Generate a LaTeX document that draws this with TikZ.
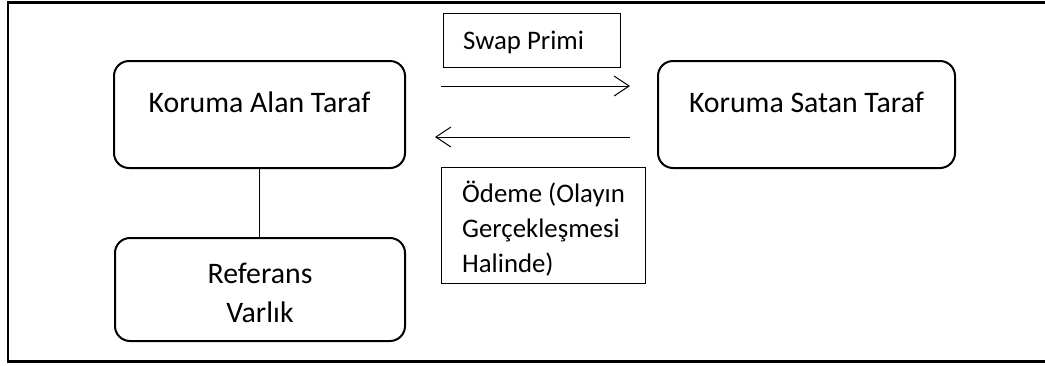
\documentclass[tikz,border=0pt]{standalone}
\usepackage{fontspec}
\setmainfont{Carlito}
\usetikzlibrary{arrows.meta,calc}

\tikzset{
  party/.style={draw, line width=2pt, rounded corners=15pt, inner sep=0pt},
  flowbox/.style={draw, line width=1pt, inner sep=0pt},
  bigtext/.style={font=\fontsize{29.8}{39}\selectfont, inner sep=0pt, align=center},
  smalltext/.style={font=\fontsize{26.8}{35}\selectfont, inner sep=0pt, align=left},
  flow/.style={line width=1pt, -{Straight Barb[length=15pt,width=20pt,line width=1pt]}},
}

\begin{document}
\begin{tikzpicture}[x=1pt, y=-1pt]
  \useasboundingbox (0,0) rectangle (1045,365);

  % outer frame, running off the right edge
  \draw[line width=2.5pt] (8,2.5) rectangle (1060,361.5);

  % the three parties
  \node[party, minimum width=291pt, minimum height=107pt] (alan) at (259.5,114.5) {};
  \node[bigtext, anchor=base] (alanlbl) at ($(alan.north)+(0,52)$) {Koruma Alan Taraf};

  \node[party, minimum width=297pt, minimum height=107pt] (satan) at (806.5,114.5) {};
  \node[bigtext, anchor=base] (satanlbl) at ($(satan.north)+(0,52)$) {Koruma Satan Taraf};

  \node[party, minimum width=290pt, minimum height=103pt] (ref) at (260,289.5) {};
  % multi-line labels: base anchor sits on the last line
  \node[bigtext, anchor=base] (reflbl) at (260,322) {Referans\\Varlık};

  \draw[line width=1pt] (alan.south) -- (alan.south |- ref.north);

  % payment flows
  \node[flowbox, minimum width=177pt, minimum height=54pt] (prem) at (531.5,40) {};
  \node[smalltext, anchor=base west] (premlbl) at (463,49) {Swap Primi};

  \node[flowbox, minimum width=204pt, minimum height=116pt] (pay) at (543,225) {};
  \node[smalltext, anchor=base west] (paylbl) at (462,272) {Ödeme (Olayın\\Gerçekleşmesi\\Halinde)};

  \coordinate (p1) at (441,86);
  \coordinate (p2) at (630,86);
  \coordinate (q1) at (630,137);
  \coordinate (q2) at (435,137);
  \draw[flow] (p1) -- (p2);
  \draw[flow] (q1) -- (q2);
\end{tikzpicture}
\end{document}
